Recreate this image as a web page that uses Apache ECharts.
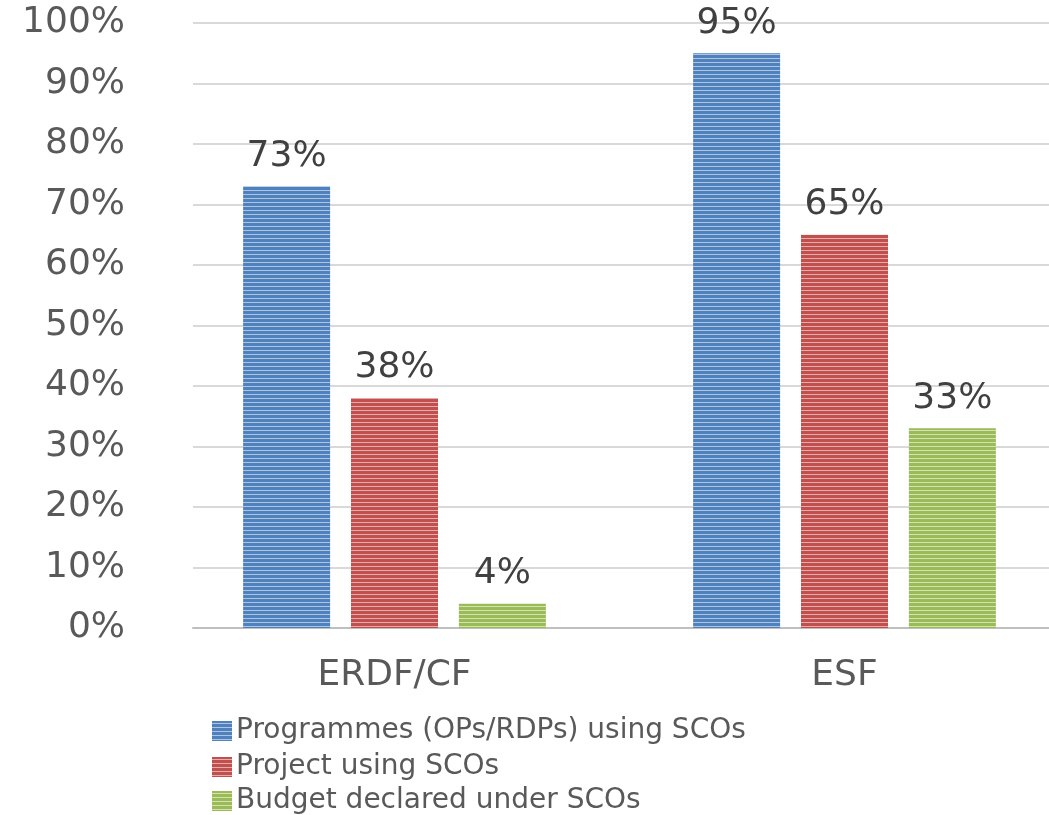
<!DOCTYPE html>
<html>
<head>
<meta charset="utf-8">
<script src="https://cdn.jsdelivr.net/npm/echarts@6/dist/echarts.min.js"></script>
<style>
  html, body { margin: 0; padding: 0; background: #fff; }
  #chart { width: 1049px; height: 815px; }
</style>
</head>
<body>
<div id="chart"></div>
<script>
var categories = ['ERDF/CF', 'ESF'];
var seriesNames = ['Programmes (OPs/RDPs) using SCOs', 'Project using SCOs', 'Budget declared under SCOs'];
var programmes = [73, 95];
var projects = [38, 65];
var budget = [4, 33];

var textColor = '#595959';
var font = "'DejaVu Sans', Verdana, sans-serif";

// striped fill like the original excel bars
function stripes(base, light) {
  var c = document.createElement('canvas');
  c.width = 4;
  c.height = 4;
  var ctx = c.getContext('2d');
  ctx.fillStyle = base;
  ctx.fillRect(0, 0, 4, 4);
  ctx.fillStyle = light;
  ctx.fillRect(0, 2, 4, 1);
  return { image: c, repeat: 'repeat' };
}

var fills = [
  stripes('#4f81bd', '#adc5e3'),
  stripes('#c0504d', '#e6abaa'),
  stripes('#9bbb59', '#d3e3ae')
];

var chart = echarts.init(document.getElementById('chart'));

function makeSeries(name, data, idx) {
  return {
    name: name,
    type: 'bar',
    xAxisIndex: 1,
    yAxisIndex: 1,
    data: data,
    barWidth: 87,
    barGap: '24%',
    itemStyle: { color: fills[idx] },
    label: {
      show: true,
      position: 'top',
      distance: 12,
      formatter: '{c}%',
      color: '#404040',
      fontFamily: font,
      fontSize: 36
    }
  };
}

// one legend per row so the three entries stack without wrapping
function makeLegend(name, top) {
  return {
    left: 212,
    top: top,
    padding: 0,
    itemWidth: 20,
    itemHeight: 20,
    icon: 'rect',
    data: [name],
    textStyle: { color: textColor, fontSize: 28, lineHeight: 25, fontFamily: font, padding: [0, 0, 0, -1] }
  };
}

var option = {
  animation: false,
  textStyle: { fontFamily: font },
  legend: [
    makeLegend(seriesNames[0], 717),
    makeLegend(seriesNames[1], 753),
    makeLegend(seriesNames[2], 787)
  ],
  grid: [
    { left: 193, right: 0, top: 23, bottom: 187 },
    { left: 169.5, width: 900, top: 23, bottom: 187, outerBoundsMode: 'none' }
  ],
  xAxis: [
    {
      gridIndex: 0,
      type: 'category',
      data: [''],
      axisLine: { lineStyle: { color: '#bfbfbf', width: 2 } },
      axisTick: { show: false },
      axisLabel: { show: false }
    },
    {
      gridIndex: 1,
      type: 'category',
      data: categories,
      axisLine: { show: false },
      axisTick: { show: false },
      axisLabel: { color: textColor, fontSize: 36, fontFamily: font, margin: 30 }
    }
  ],
  yAxis: [
    {
      gridIndex: 0,
      type: 'value',
      min: 0,
      max: 100,
      interval: 10,
      axisLine: { show: false },
      axisTick: { show: false },
      axisLabel: { formatter: '{value}%', color: textColor, fontSize: 36, fontFamily: font, margin: 68 },
      splitLine: { lineStyle: { color: '#d9d9d9', width: 2 } }
    },
    {
      gridIndex: 1,
      type: 'value',
      min: 0,
      max: 100,
      show: false
    }
  ],
  series: [
    makeSeries(seriesNames[0], programmes, 0),
    makeSeries(seriesNames[1], projects, 1),
    makeSeries(seriesNames[2], budget, 2)
  ]
};

chart.setOption(option);
</script>
</body>
</html>
